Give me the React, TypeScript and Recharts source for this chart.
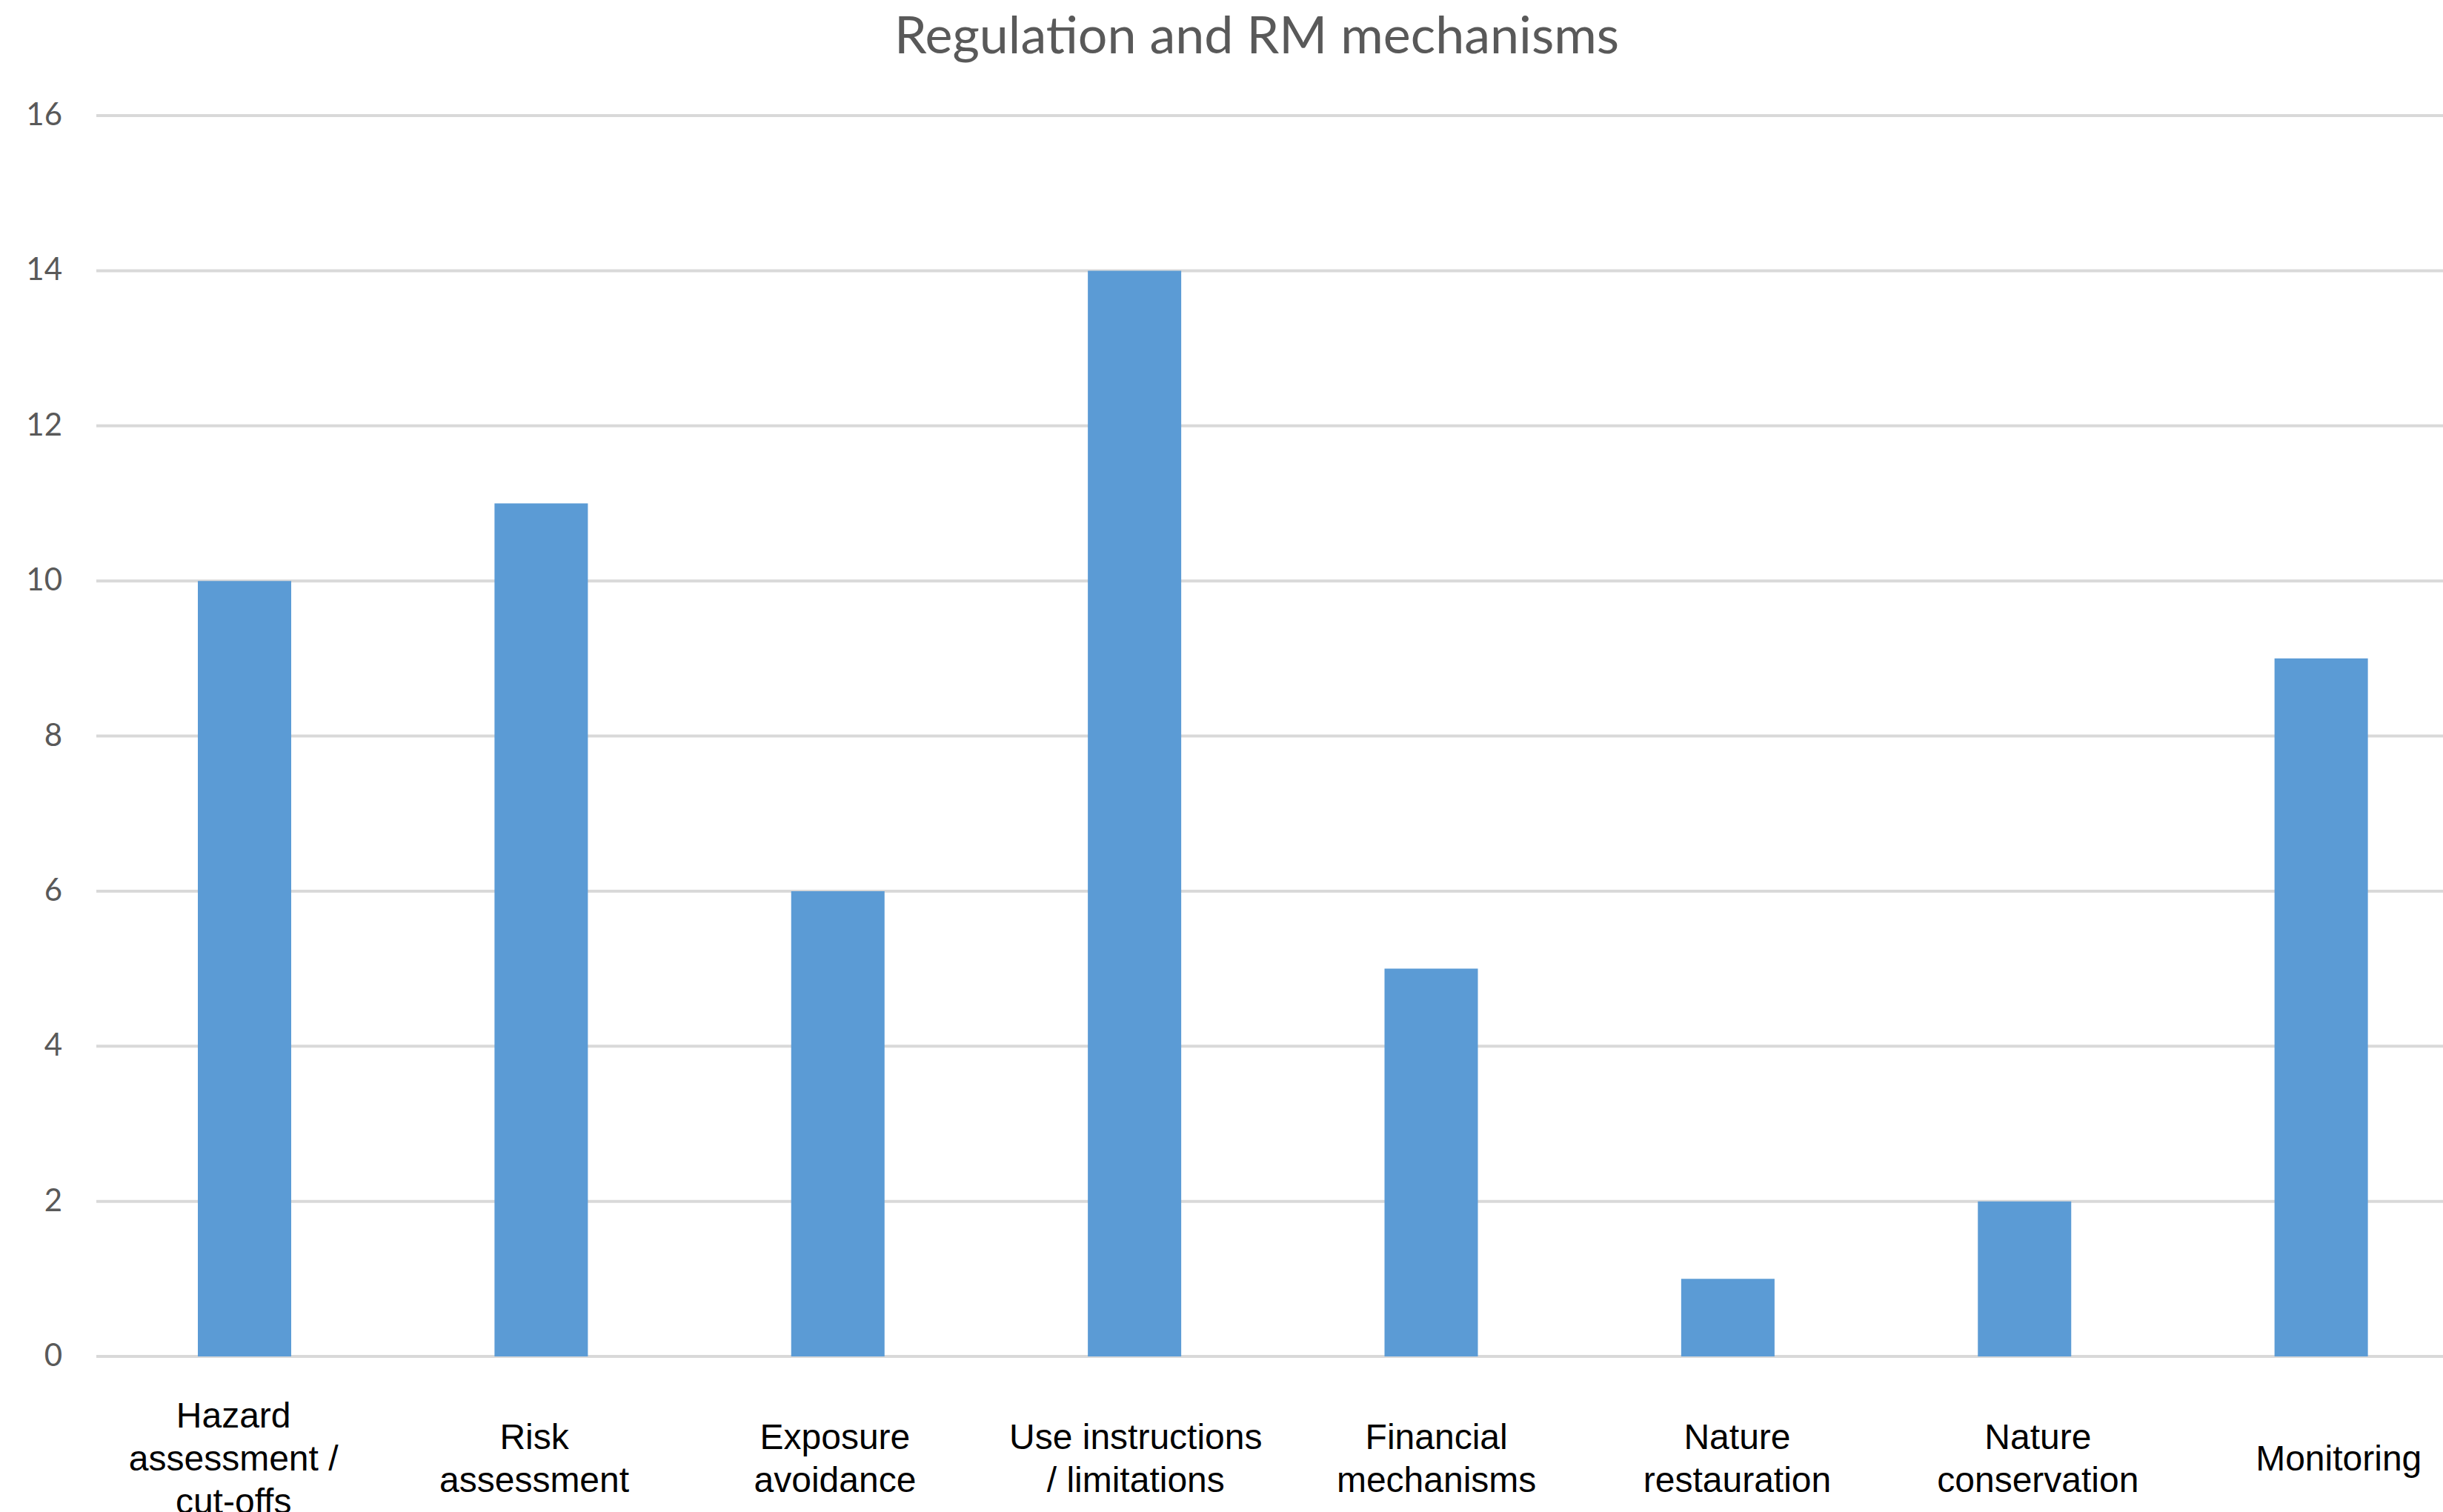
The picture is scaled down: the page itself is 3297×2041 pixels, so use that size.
import React from 'react'
import {Bar, BarChart, CartesianGrid, XAxis, YAxis} from 'recharts';

const categories = [
    'Hazard assessment / cut-offs',
    'Risk assessment',
    'Exposure avoidance',
    'Use instructions / limitations',
    'Financial mechanisms',
    'Nature restauration',
    'Nature conservation',
    'Monitoring',
];
const tickLines = [
    ['Hazard', 'assessment /', 'cut-offs'],
    ['Risk', 'assessment'],
    ['Exposure', 'avoidance'],
    ['Use instructions', '/ limitations'],
    ['Financial', 'mechanisms'],
    ['Nature', 'restauration'],
    ['Nature', 'conservation'],
    ['Monitoring'],
];
const counts = [10, 11, 6, 14, 5, 1, 2, 9];
const yTicks = [0, 2, 4, 6, 8, 10, 12, 14, 16];

const data = categories.map((name, i) => ({name, value: counts[i]}));

const W = 3297;
const H = 2041;

const YTick = ({x, y, payload}: any) => (
    <text x={x} y={y} dy={13} textAnchor="end" fill="#595959" fontSize={42} fontFamily="Lato">
        {payload.value}
    </text>
);

// labels in the source sit on a slightly wider spacing than the bars
const XTick = ({x, y, index}: any) => {
    const lines = tickLines[index] || [];
    const lx = 315 + (x - 330) * 1.0137;
    const first = y + 137 - (lines.length - 1) * 29 + 17;
    return (
        <text x={lx} y={first} textAnchor="middle" fill="#000000" fontSize={48} fontFamily="Liberation Sans, Arial">
            {lines.map((l, i) => (
                <tspan key={i} x={lx} y={first + i * 58}>{l}</tspan>
            ))}
        </text>
    );
};

export default function App() {
    return (
        <div style={{position: 'absolute', left: 0, top: 0, width: W, height: H, background: '#fff'}}>
            <BarChart
                width={W}
                height={H}
                data={data}
                margin={{top: 156, right: -36, bottom: 0, left: 0}}>
                <CartesianGrid vertical={false} stroke="#d9d9d9" strokeWidth={4}/>
                <XAxis
                    dataKey="name"
                    height={210}
                    axisLine={false}
                    tickLine={false}
                    tickSize={0}
                    tickMargin={0}
                    interval={0}
                    tick={<XTick/>}
                />
                <YAxis
                    width={130}
                    domain={[0, 16]}
                    ticks={yTicks}
                    axisLine={false}
                    tickLine={false}
                    tickSize={0}
                    tickMargin={46}
                    tick={<YTick/>}
                />
                <Bar dataKey="value" fill="#5b9bd5" barSize={126} isAnimationActive={false}/>
            </BarChart>
            <svg width={W} height={120} style={{position: 'absolute', left: 0, top: 0}}>
                <text x={1696} y={72} textAnchor="middle" fill="#595959" fontSize={70} fontFamily="Lato">
                    Regulation and RM mechanisms
                </text>
            </svg>
        </div>
    )
}
